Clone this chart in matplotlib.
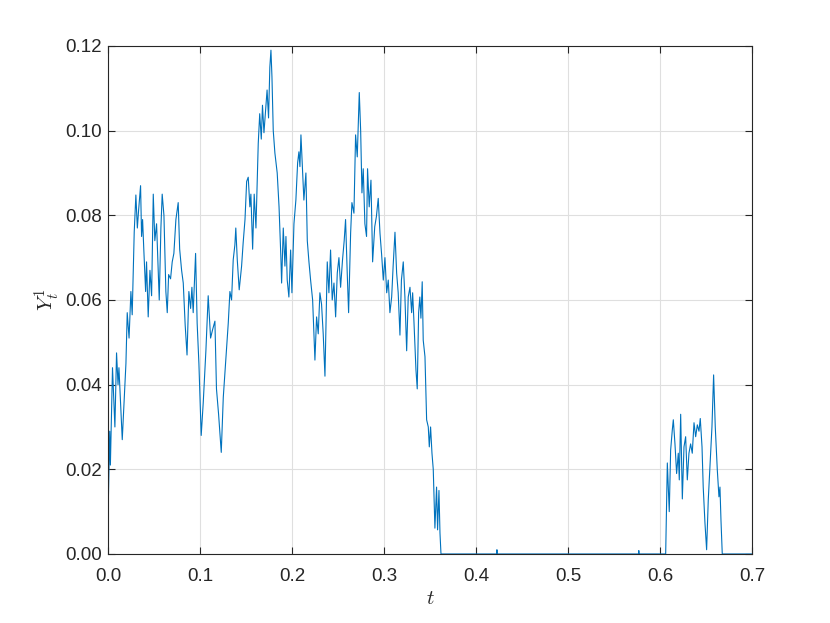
import matplotlib.pyplot as plt

# path values
t = [0.0, 0.002, 0.0027, 0.005, 0.0076, 0.0094, 0.011, 0.012, 0.0156, 0.0196,
     0.021, 0.023, 0.025, 0.0264, 0.0286, 0.0304, 0.032, 0.0333, 0.0355, 0.0366,
     0.0377, 0.039, 0.041, 0.042, 0.0438, 0.0457, 0.0475, 0.0493, 0.051, 0.0529,
     0.0558, 0.0576, 0.059, 0.0609, 0.063, 0.0645, 0.066, 0.0681, 0.0699, 0.0717,
     0.0739, 0.0764, 0.078, 0.0801, 0.0819, 0.084, 0.086, 0.088, 0.0899, 0.0913,
     0.0927, 0.0953, 0.097, 0.0989, 0.1014, 0.1036, 0.1065, 0.109, 0.1116, 0.1138,
     0.1163, 0.118, 0.1203, 0.1232, 0.1254, 0.1283, 0.1308, 0.1326, 0.1344, 0.1362,
     0.138, 0.139, 0.1406, 0.1427, 0.1453, 0.147, 0.149, 0.1508, 0.1525, 0.1543,
     0.1554, 0.1573, 0.159, 0.1609, 0.1634, 0.165, 0.1667, 0.168, 0.1696, 0.1717,
     0.173, 0.1746, 0.176, 0.1772, 0.1783, 0.1797, 0.1815, 0.184, 0.186, 0.188,
     0.1888, 0.1906, 0.1924, 0.1935, 0.1949, 0.1967, 0.1986, 0.2, 0.2022, 0.2043,
     0.2062, 0.2076, 0.2087, 0.2098, 0.2116, 0.213, 0.2152, 0.2167, 0.2185, 0.2203,
     0.2225, 0.225, 0.2268, 0.2286, 0.2304, 0.2322, 0.234, 0.2359, 0.2384, 0.2402,
     0.242, 0.2438, 0.2457, 0.2475, 0.2493, 0.2511, 0.2529, 0.255, 0.2568, 0.2583,
     0.2601, 0.2616, 0.2638, 0.2652, 0.2674, 0.2692, 0.271, 0.2732, 0.2747, 0.2761,
     0.2775, 0.2793, 0.2811, 0.2822, 0.284, 0.2859, 0.2877, 0.290, 0.2918, 0.2938,
     0.2957, 0.2975, 0.2993, 0.3011, 0.303, 0.3047, 0.3065, 0.3084, 0.310, 0.312,
     0.3138, 0.3155, 0.3174, 0.319, 0.321, 0.3228, 0.3247, 0.3264, 0.3283, 0.3301,
     0.3312, 0.3326, 0.3348, 0.3362, 0.3377, 0.339, 0.3402, 0.3416, 0.3427, 0.3446,
     0.3464, 0.3482, 0.3493, 0.3507, 0.3522, 0.3536, 0.3554, 0.3572, 0.3583, 0.3598,
     0.3609, 0.362, 0.4225, 0.4228, 0.4231, 0.5767, 0.577, 0.5773, 0.6062, 0.608,
     0.6101, 0.6116, 0.6134, 0.6145, 0.6163, 0.6181, 0.6199, 0.621, 0.6225, 0.6243,
     0.6261, 0.6279, 0.6297, 0.6315, 0.6333, 0.6351, 0.637, 0.6388, 0.6406, 0.6424,
     0.6438, 0.6457, 0.647, 0.6489, 0.6507, 0.6525, 0.6543, 0.6565, 0.6583, 0.6601,
     0.6623, 0.6641, 0.6652, 0.6663, 0.6677, 0.7]
y = [0.0073, 0.029, 0.021, 0.044, 0.030, 0.0475, 0.040, 0.044, 0.027, 0.045,
     0.057, 0.051, 0.062, 0.0565, 0.076, 0.0848, 0.077, 0.081, 0.087, 0.075,
     0.079, 0.072, 0.062, 0.069, 0.056, 0.067, 0.061, 0.085, 0.074, 0.078,
     0.060, 0.077, 0.085, 0.080, 0.062, 0.057, 0.066, 0.065, 0.069, 0.071,
     0.079, 0.083, 0.072, 0.067, 0.064, 0.054, 0.047, 0.062, 0.058, 0.063,
     0.057, 0.071, 0.0545, 0.045, 0.028, 0.0357, 0.048, 0.061, 0.051, 0.053,
     0.055, 0.039, 0.033, 0.024, 0.037, 0.0466, 0.0545, 0.062, 0.060, 0.0695,
     0.073, 0.077, 0.0695, 0.0624, 0.068, 0.0735, 0.079, 0.088, 0.089, 0.082,
     0.085, 0.072, 0.085, 0.077, 0.097, 0.104, 0.098, 0.106, 0.0995, 0.1057,
     0.1096, 0.103, 0.115, 0.119, 0.1127, 0.100, 0.0947, 0.090, 0.082, 0.070,
     0.064, 0.077, 0.068, 0.075, 0.0647, 0.0607, 0.0718, 0.0617, 0.078, 0.0836,
     0.0924, 0.095, 0.0915, 0.099, 0.090, 0.0836, 0.090, 0.074, 0.069, 0.0647,
     0.060, 0.0458, 0.056, 0.052, 0.0617, 0.059, 0.052, 0.042, 0.069, 0.0617,
     0.0718, 0.060, 0.064, 0.056, 0.0664, 0.070, 0.063, 0.0695, 0.074, 0.079,
     0.0664, 0.057, 0.0758, 0.083, 0.0805, 0.099, 0.0938, 0.109, 0.100, 0.0853,
     0.091, 0.078, 0.075, 0.091, 0.082, 0.0883, 0.069, 0.0773, 0.0797, 0.084,
     0.0758, 0.0707, 0.0647, 0.070, 0.0617, 0.0647, 0.057, 0.0607, 0.068, 0.076,
     0.0664, 0.0617, 0.0517, 0.0647, 0.069, 0.0607, 0.048, 0.0607, 0.063, 0.057,
     0.0617, 0.055, 0.0435, 0.039, 0.057, 0.0607, 0.0557, 0.0643, 0.0505, 0.0466,
     0.0317, 0.030, 0.0253, 0.030, 0.0238, 0.020, 0.0061, 0.0158, 0.0057, 0.015,
     0.005, 0.0, 0.0, 0.001, 0.0, 0.0, 0.0008, 0.0, 0.0, 0.0215,
     0.010, 0.0245, 0.0293, 0.0317, 0.026, 0.019, 0.0238, 0.0175, 0.033, 0.013,
     0.0253, 0.0277, 0.0175, 0.0238, 0.026, 0.0238, 0.031, 0.0277, 0.0305, 0.029,
     0.032, 0.0253, 0.0158, 0.0073, 0.001, 0.0128, 0.0206, 0.030, 0.0423, 0.030,
     0.0199, 0.0135, 0.0158, 0.008, 0.0, 0.0]

xticks = [0, 0.1, 0.2, 0.3, 0.4, 0.5, 0.6, 0.7]
yticks = [0, 0.02, 0.04, 0.06, 0.08, 0.10, 0.12]

plt.rcParams['font.family'] = ['Liberation Sans', 'DejaVu Sans']
plt.rcParams['mathtext.fontset'] = 'cm'

fig = plt.figure(figsize=(8.3, 6.23), dpi=100)
ax = fig.add_axes([0.130, 0.1108, 0.776, 0.8154])

ax.plot(t, y, color='#0072BD', lw=0.8)

ax.set_xlim(0, 0.7)
ax.set_ylim(0, 0.12)
ax.set_xticks(xticks)
ax.set_xticklabels([f'{v:.1f}' for v in xticks])
ax.set_yticks(yticks)
ax.set_yticklabels([f'{v:.2f}' for v in yticks])
ax.grid(True, color='#dfdfdf', lw=0.8)
ax.set_axisbelow(True)
ax.tick_params(direction='in', top=True, right=True, length=5, width=0.8,
               colors='#262626', labelsize=13.5)
ax.tick_params(axis='x', pad=10)
ax.tick_params(axis='y', pad=4.5)
for s in ax.spines.values():
    s.set_color('#262626')
    s.set_linewidth(0.8)

ax.set_xlabel('$t$', fontsize=15, color='#262626', labelpad=3)
ax.set_ylabel('$Y_t^1$', fontsize=15, color='#262626', labelpad=2)

fig.savefig('out.png', dpi=100)
